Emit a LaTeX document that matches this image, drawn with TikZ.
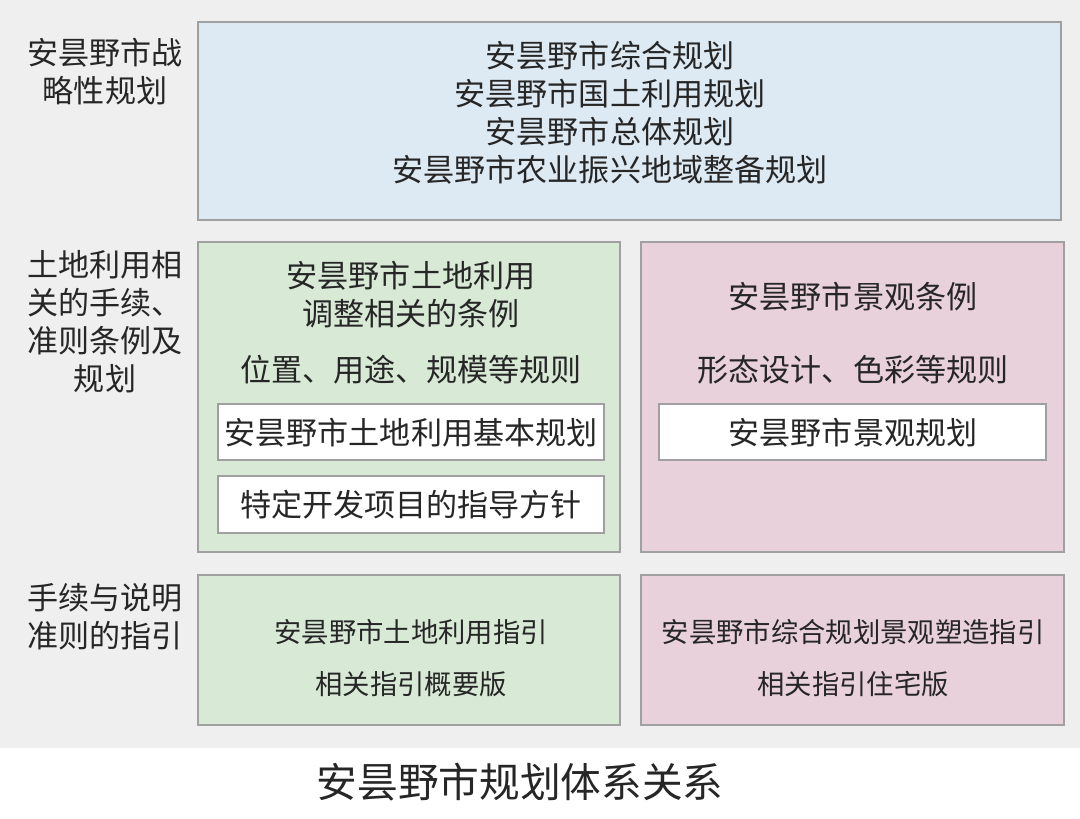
\documentclass[tikz,border=0pt]{standalone}
\usepackage{fontspec}
\setmainfont{Noto Sans CJK SC}
\usetikzlibrary{positioning}
\definecolor{bgray}{HTML}{EFEFEF}
\definecolor{pblue}{HTML}{DDE9F3}
\definecolor{pgreen}{HTML}{D8EAD6}
\definecolor{ppink}{HTML}{E9D1DB}
\definecolor{frame}{HTML}{A0A0A0}
\begin{document}
\begin{tikzpicture}[x=0.75pt,y=-0.75pt]
\tikzstyle{every node}=[inner sep=0pt,text=black!85]
\tikzstyle{panel}=[draw=frame,line width=0.8pt]
\tikzstyle{inbox}=[draw=frame,fill=white,line width=0.8pt]
\tikzstyle{big}=[font=\fontsize{23.3pt}{28.5pt}\selectfont,align=center]
\tikzstyle{small}=[font=\fontsize{20.5pt}{24pt}\selectfont,align=center]
\useasboundingbox (0,0) rectangle (1080,818);
\fill[white] (0,0) rectangle (1080,818);
\fill[bgray] (0,0) rectangle (1080,748);
% panels
\draw[panel,fill=pblue]  (198,22)  rectangle (1061,220);
\draw[panel,fill=pgreen] (198,242) rectangle (620,552);
\draw[panel,fill=ppink]  (641,242) rectangle (1064,552);
\draw[panel,fill=pgreen] (198,575) rectangle (620,725);
\draw[panel,fill=ppink]  (641,575) rectangle (1064,725);
\draw[inbox] (218,404) rectangle (604,460);
\draw[inbox] (218,476) rectangle (604,533);
\draw[inbox] (659,404) rectangle (1046,460);
% row labels
\node[big] (lab1) at (105,72)  {安昙野市战\\略性规划};
\node[big] (lab2) at (105,322) {土地利用相\\关的手续、\\准则条例及\\规划};
\node[big] (lab3) at (105,617) {手续与说明\\准则的指引};
% top
\node[big] (zong) at (610,113) {安昙野市综合规划\\安昙野市国土利用规划\\安昙野市总体规划\\安昙野市农业振兴地域整备规划};
% middle
\node[big] (tiaoli) at (411,295) {安昙野市土地利用\\调整相关的条例};
\node[big] (guize) at (411,370) {位置、用途、规模等规则};
\node[big] (jiben) at (411,433) {安昙野市土地利用基本规划};
\node[big] (teding) at (411,505) {特定开发项目的指导方针};
\node[big] (jingguan) at (853,297) {安昙野市景观条例};
\node[big] (xingtai) at (853,370) {形态设计、色彩等规则};
\node[big] (jgguihua) at (853,433) {安昙野市景观规划};
% bottom
\node[small] (zhiyin) at (411,632) {安昙野市土地利用指引};
\node[small] (gaiyao) at (411,684) {相关指引概要版};
\node[small] (suzao) at (853,632) {安昙野市综合规划景观塑造指引};
\node[small] (zhuzhai) at (853,684) {相关指引住宅版};
% caption
\node[font=\fontsize{30.5pt}{34pt}\selectfont] (title) at (520,782) {安昙野市规划体系关系};
\end{tikzpicture}
\end{document}
